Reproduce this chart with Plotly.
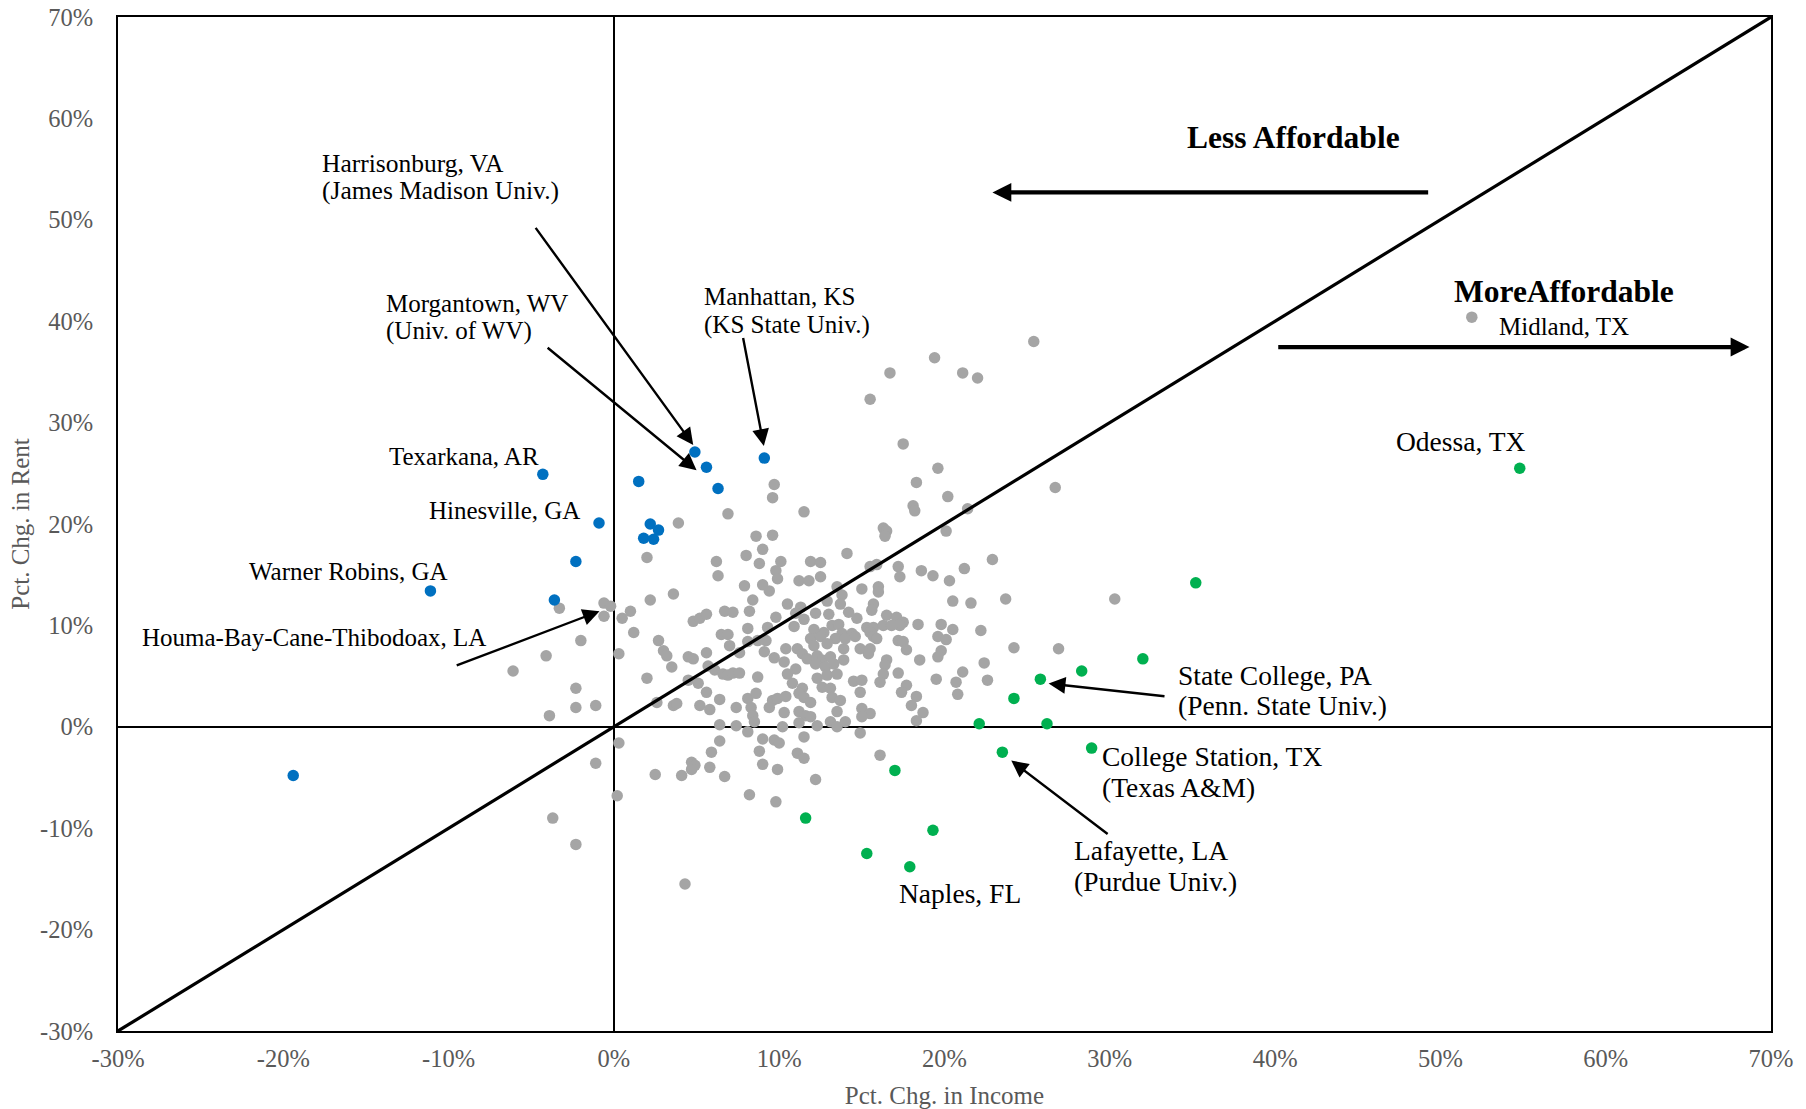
import plotly.graph_objects as go

# Percent change in median household income (x) vs. percent change in median rent (y), by metro area
other_metros = [
    (17.5, 27.9), (19.6, 25.5), (18.3, 24.1), (20.2, 22.7), (18.1, 21.8), (18.2, 21.3), (21.4, 21.5), (9.7, 23.9), (9.6, 22.6), (11.5, 21.2),
    (6.9, 21.0), (3.9, 20.1), (16.3, 19.6), (16.5, 19.3), (16.4, 18.8), (20.1, 19.3), (8.6, 18.8), (9.6, 18.9), (9.0, 17.5), (8.0, 16.9),
    (14.1, 17.1), (2.0, 16.7), (6.2, 16.3), (8.8, 16.1), (10.1, 16.3), (11.9, 16.3), (12.5, 16.2), (22.9, 16.5), (17.2, 15.8), (17.3, 14.8),
    (15.5, 15.8), (15.9, 16.0), (18.6, 15.4), (19.3, 14.9), (21.2, 15.6), (9.8, 15.4), (9.9, 14.6), (6.3, 14.9), (12.5, 14.8), (11.2, 14.4),
    (11.8, 14.4), (20.3, 14.4), (7.9, 13.9), (9.0, 14.0), (9.4, 13.4), (13.5, 13.8), (15.0, 13.6), (16.0, 13.8), (16.0, 13.3), (3.6, 13.1),
    (2.2, 12.5), (8.4, 12.5), (13.8, 13.0), (13.7, 12.1), (20.5, 12.4), (21.6, 12.2), (23.7, 12.6), (10.5, 12.1), (11.3, 11.8), (15.7, 12.1),
    (15.6, 11.5), (12.9, 12.4), (6.7, 11.4), (7.2, 11.3), (8.2, 11.4), (12.2, 11.2), (13.0, 11.1), (14.2, 11.3), (4.8, 10.4), (5.2, 10.7),
    (5.6, 11.1), (9.8, 10.8), (11.0, 11.2), (11.5, 10.6), (14.7, 10.7), (16.5, 11.0), (17.1, 10.8), (17.5, 10.3), (17.3, 10.0), (18.4, 10.1),
    (19.8, 10.1), (20.5, 9.6), (22.2, 9.5), (9.3, 9.8), (10.9, 9.9), (8.1, 9.7), (12.1, 9.6), (12.7, 9.3), (13.2, 10.0), (13.6, 10.1),
    (15.3, 9.8), (15.7, 9.8), (16.3, 10.0), (16.8, 10.0), (6.5, 9.1), (6.9, 9.1), (13.8, 9.2), (14.4, 9.2), (2.7, 8.5), (11.9, 8.7),
    (12.5, 8.9), (13.4, 8.7), (14.0, 8.7), (14.6, 8.9), (17.2, 8.5), (17.5, 8.4), (19.6, 8.9), (20.1, 8.6), (15.5, 9.3), (15.7, 8.9),
    (15.9, 8.7), (8.1, 8.4), (8.7, 8.5), (9.2, 8.5), (7.0, 8.0), (10.4, 7.7), (11.1, 7.7), (12.1, 8.0), (12.9, 8.2), (13.9, 7.7),
    (14.9, 7.7), (15.5, 7.7), (15.4, 7.2), (17.7, 7.6), (3.0, 7.5), (3.2, 7.0), (24.2, 7.8), (19.8, 7.5), (19.6, 6.9), (5.6, 7.3),
    (4.5, 6.9), (4.8, 6.7), (7.6, 7.3), (9.1, 7.4), (9.7, 6.8), (11.4, 7.2), (11.7, 6.7), (12.3, 7.0), (12.6, 6.6), (13.1, 6.9),
    (13.9, 6.6), (16.5, 6.6), (16.4, 6.1), (18.5, 6.6), (22.4, 6.3), (3.5, 5.9), (5.7, 6.0), (6.1, 5.6), (10.3, 6.4), (11.0, 5.7),
    (12.2, 6.2), (12.8, 5.9), (13.3, 6.2), (16.3, 5.2), (17.2, 5.3), (21.1, 5.4), (2.0, 4.8), (6.6, 5.2), (6.9, 5.1), (7.2, 5.3),
    (7.6, 5.3), (8.7, 4.9), (10.5, 5.2), (12.3, 4.8), (12.9, 5.1), (13.5, 5.2), (14.5, 4.5), (15.0, 4.6), (16.1, 4.4), (19.5, 4.7),
    (20.7, 4.4), (22.6, 4.6), (4.5, 4.6), (5.1, 4.3), (5.6, 3.4), (10.8, 4.3), (11.4, 3.8), (11.2, 3.3), (12.6, 3.9), (13.1, 3.8),
    (14.9, 3.4), (17.7, 4.1), (17.4, 3.4), (18.3, 3.0), (20.8, 3.2), (6.4, 2.7), (8.1, 2.8), (8.6, 3.3), (9.6, 2.6), (9.9, 2.8),
    (9.4, 1.9), (10.4, 3.0), (11.5, 2.9), (11.9, 2.4), (13.2, 2.9), (13.7, 2.6), (2.6, 2.4), (3.6, 2.1), (3.8, 2.3), (5.2, 2.1),
    (5.8, 1.7), (7.4, 1.9), (8.3, 1.9), (8.4, 1.1), (10.3, 1.4), (11.2, 1.5), (11.6, 1.1), (11.9, 1.0), (13.5, 1.5), (15.0, 1.8),
    (15.5, 1.3), (15.0, 1.0), (18.0, 2.1), (18.7, 1.4), (18.3, 0.6), (6.4, 0.2), (7.4, 0.1), (8.5, 0.5), (10.2, 0.0), (11.2, 0.4),
    (12.3, 0.1), (13.1, 0.5), (13.5, 0.0), (14.0, 0.5), (8.1, -0.5), (14.9, -0.6), (6.4, -1.4), (9.0, -1.2), (9.7, -1.3), (10.0, -1.6),
    (11.5, -1.0), (5.9, -2.5), (8.8, -2.4), (11.1, -2.6), (11.5, -3.1), (16.1, -2.8), (4.7, -3.5), (4.9, -3.8), (4.7, -4.2), (9.0, -3.7),
    (5.8, -4.0), (9.9, -4.2), (2.5, -4.7), (4.1, -4.8), (6.7, -4.9), (12.2, -5.2), (8.2, -6.7), (9.8, -7.4),
    (-3.3, 11.7), (-0.6, 12.2), (-0.2, 11.9), (-0.6, 10.9), (0.5, 10.7), (1.0, 11.4), (1.2, 9.3), (-2.0, 8.5), (0.3, 7.2), (-4.1, 7.0),
    (-6.1, 5.5), (-2.3, 3.8), (-3.9, 1.1), (-2.3, 1.9), (-1.1, 2.1), (0.3, -1.6), (-1.1, -3.6), (0.2, -6.8), (-3.7, -9.0), (-2.3, -11.6),
    (4.3, -15.5),
    (25.4, 38.0), (19.4, 36.4), (16.7, 34.9), (21.1, 34.9), (22.0, 34.4), (15.5, 32.3), (26.7, 23.6), (30.3, 12.6), (26.9, 7.7),
    (51.9, 40.4),  # Midland, TX
]

# Metros where rent grew faster than income
rent_outpaced = [
    (-4.3, 24.9), (1.5, 24.2), (-0.9, 20.1), (2.2, 20.0), (2.7, 19.4), (1.8, 18.6), (2.4, 18.5), (-2.3, 16.3),
    (-11.1, 13.4), (-3.6, 12.5), (-19.4, -4.8), (4.9, 27.1), (5.6, 25.6), (6.3, 23.5), (9.1, 26.5),
]

# Metros where income grew faster than rent
income_outpaced = [
    (25.8, 4.7), (24.2, 2.8), (22.1, 0.3), (23.5, -2.5), (17.0, -4.3), (11.6, -9.0), (35.2, 14.2), (32.0, 6.7),
    (28.3, 5.5), (26.2, 0.3), (28.9, -2.1), (19.3, -10.2), (15.3, -12.5), (17.9, -13.8), (54.8, 25.5),
]

tick_values = [-30, -20, -10, 0, 10, 20, 30, 40, 50, 60, 70]
tick_labels = ["-30%", "-20%", "-10%", "0%", "10%", "20%", "30%", "40%", "50%", "60%", "70%"]

# City labels: (lines, x, y of each line, anchor, font size)
city_labels = [
    (["Harrisonburg, VA", "(James Madison Univ.)"], -17.8, [55.6, 52.9], "left", 25.5),
    (["Morgantown, WV", "(Univ. of WV)"], -13.9, [41.7, 39.0], "left", 25),
    (["Manhattan, KS", "(KS State Univ.)"], 5.3, [42.4, 39.6], "left", 25),
    (["Texarkana, AR"], -4.4, [26.7], "right", 25),
    (["Hinesville, GA"], -1.9, [21.35], "right", 25),
    (["Warner Robins, GA"], -9.9, [15.3], "right", 25),
    (["Houma-Bay-Cane-Thibodoax, LA"], -7.6, [8.8], "right", 25),
    (["State College, PA", "(Penn. State Univ.)"], 34.0, [5.1, 2.1], "left", 27.5),
    (["College Station, TX", "(Texas A&M)"], 29.4, [-2.9, -6.0], "left", 27.5),
    (["Lafayette, LA", "(Purdue Univ.)"], 27.7, [-12.2, -15.3], "left", 27.5),
    (["Naples, FL"], 17.1, [-16.4], "left", 27.5),
    (["Midland, TX"], 53.4, [39.5], "left", 25),
    (["Odessa, TX"], 47.2, [28.1], "left", 27.5),
]

# Pointer arrows: (head x, head y, tail x, tail y)
pointers = [
    (4.8, 27.8, -4.8, 49.35),
    (5.0, 25.3, -4.1, 37.5),
    (9.07, 27.7, 7.8, 38.5),
    (-0.87, 11.4, -9.6, 6.0),
    (26.3, 4.27, 33.4, 3.0),
    (24.04, -3.33, 29.96, -10.69),
]

GRAY = "#A5A5A5"
BLUE = "#0070C0"
GREEN = "#00B050"
TEXT_GRAY = "#595959"
SERIF = "Liberation Serif, Times New Roman, serif"

fig = go.Figure()

for pts, color in [(other_metros, GRAY), (rent_outpaced, BLUE), (income_outpaced, GREEN)]:
    fig.add_trace(go.Scatter(
        x=[p[0] for p in pts], y=[p[1] for p in pts], mode="markers",
        marker=dict(size=11.5, color=color, line=dict(width=0)),
        showlegend=False, hoverinfo="x+y",
    ))

# Equal-growth line
fig.add_trace(go.Scatter(
    x=[-30, 70], y=[-30, 70], mode="lines",
    line=dict(color="black", width=3.2), showlegend=False, hoverinfo="skip",
))

annotations = []
for lines, x, ys, anchor, size in city_labels:
    for text, y in zip(lines, ys):
        annotations.append(dict(
            x=x, y=y, xref="x", yref="y", text=text, showarrow=False,
            xanchor=anchor, yanchor="middle",
            font=dict(family=SERIF, size=size, color="black"),
        ))

for hx, hy, tx, ty in pointers:
    annotations.append(dict(
        x=hx, y=hy, ax=tx, ay=ty, xref="x", yref="y", axref="x", ayref="y",
        text="", showarrow=True, arrowhead=2, arrowsize=1.4, arrowwidth=2.4,
        arrowcolor="black", standoff=0, startstandoff=0,
    ))

# Direction arrows and headings
annotations += [
    dict(x=22.9, y=52.7, ax=49.35, ay=52.7, xref="x", yref="y", axref="x", ayref="y",
         text="", showarrow=True, arrowhead=2, arrowsize=0.9, arrowwidth=4.2,
         arrowcolor="black", standoff=0, startstandoff=0),
    dict(x=68.7, y=37.45, ax=40.1, ay=37.45, xref="x", yref="y", axref="x", ayref="y",
         text="", showarrow=True, arrowhead=2, arrowsize=0.9, arrowwidth=4.2,
         arrowcolor="black", standoff=0, startstandoff=0),
    dict(x=41.1, y=58.1, xref="x", yref="y", text="<b>Less Affordable</b>", showarrow=False,
         xanchor="center", yanchor="middle", font=dict(family=SERIF, size=31.5, color="black")),
    dict(x=57.5, y=42.9, xref="x", yref="y", text="<b>MoreAffordable</b>", showarrow=False,
         xanchor="center", yanchor="middle", font=dict(family=SERIF, size=31.5, color="black")),
]

axis_common = dict(
    range=[-30, 70], tickvals=tick_values, ticktext=tick_labels, automargin=False,
    showgrid=False, zeroline=True, zerolinecolor="black", zerolinewidth=1.6,
    showline=True, linecolor="black", linewidth=2, mirror=True, ticks="",
    tickfont=dict(family=SERIF, size=24.5, color=TEXT_GRAY),
)

fig.update_layout(
    template="none",
    width=1806, height=1109,
    margin=dict(l=118, r=35, t=17, b=78),
    paper_bgcolor="white", plot_bgcolor="white",
    xaxis=dict(**axis_common, ticklabelstandoff=5,
               title=dict(text="Pct. Chg. in Income", standoff=20,
                          font=dict(family=SERIF, size=25, color=TEXT_GRAY))),
    yaxis=dict(**axis_common, ticklabelstandoff=18,
               title=dict(text="Pct. Chg. in Rent", standoff=3,
                          font=dict(family=SERIF, size=25, color=TEXT_GRAY))),
    annotations=annotations,
)

fig.write_html("out.html")
